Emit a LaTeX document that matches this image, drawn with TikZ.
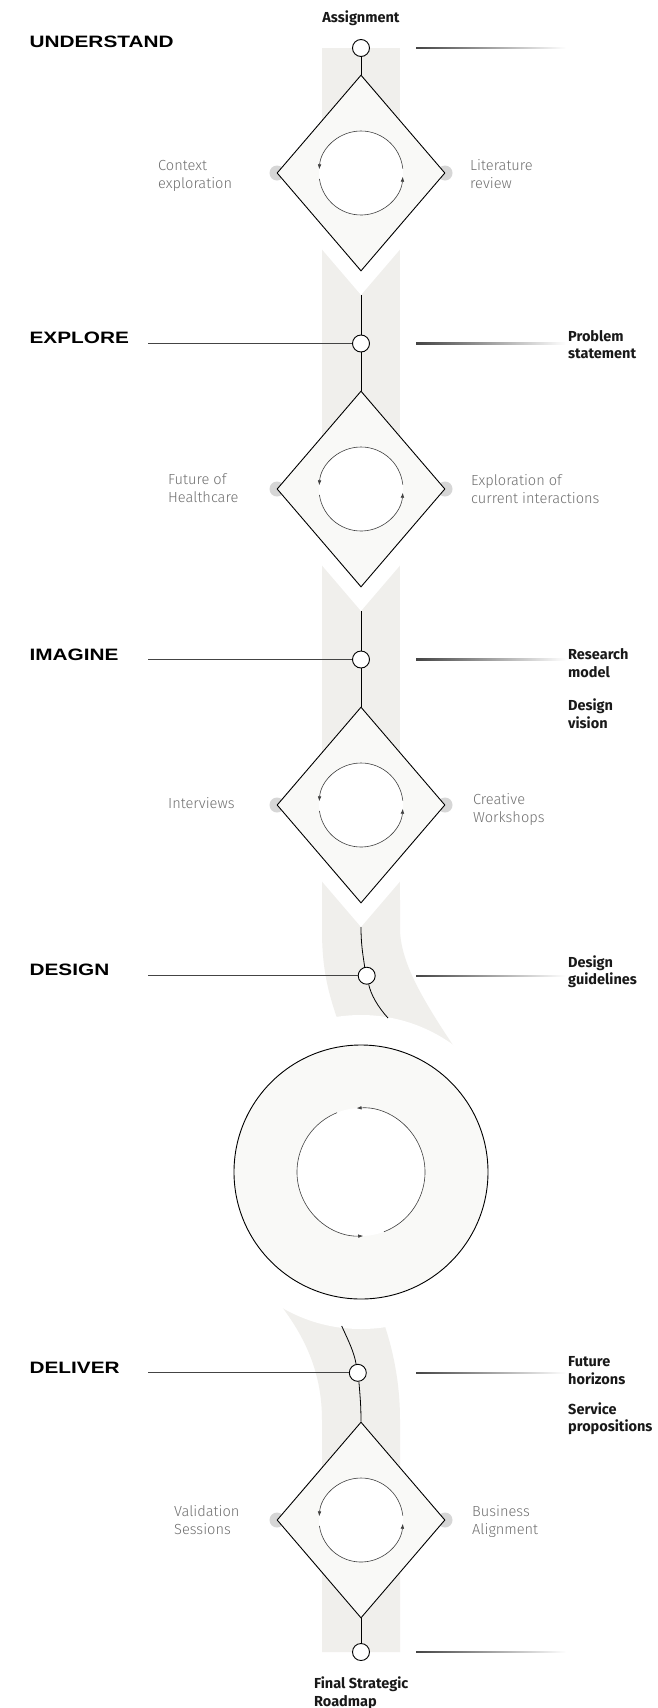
\documentclass[tikz,border=0pt]{standalone}
\usepackage{fontspec}
\setmainfont{Fira Sans}
\newfontfamily\lightfont{Fira Sans Light}
\newfontfamily\phasefont[FakeStretch=1.26]{Liberation Sans}
\usetikzlibrary{shapes.geometric,arrows.meta}
\definecolor{band}{HTML}{F0EFEC}
\definecolor{paper}{HTML}{F9F9F7}
\definecolor{dotc}{HTML}{D6D6D6}
\definecolor{lbl}{HTML}{707070}
\definecolor{ln}{HTML}{444444}
\begin{document}
\begin{tikzpicture}[x=1pt,y=-1pt,
  dia/.style={diamond,draw=black,line width=0.9pt,fill=paper,minimum width=168pt,minimum height=196pt,inner sep=0pt},
  halo/.style={diamond,fill=white,minimum width=168pt,minimum height=196pt,inner sep=0pt},
  stepnode/.style={circle,draw=black,line width=0.9pt,fill=white,minimum size=17pt,inner sep=0pt},
  conn/.style={draw=black,line width=0.8pt},
  hline/.style={draw=ln,line width=1pt},
  loopar/.style={draw=black!75,line width=0.6pt,-{Latex[length=5pt,width=3.5pt]}},
  phase/.style={anchor=west,inner sep=0pt,font=\phasefont\bfseries\fontsize{16.5}{18}\selectfont},
  outl/.style={anchor=west,inner sep=0pt,align=left,font=\bfseries\fontsize{14.5}{17.5}\selectfont,text=black!90},
  side/.style={anchor=west,inner sep=0pt,align=left,font=\lightfont\fontsize{14.6}{18}\selectfont,text=lbl},
  sdot/.style={circle,fill=dotc,minimum size=15pt,inner sep=0pt},
  fade/.style={left color=ln,right color=white}
]
\useasboundingbox[fill=white] (0,0) rectangle (657,1708);

% band
\fill[band] (322,48) rectangle (400,931);
\fill[band] (322,900) -- (322,930) .. controls (322,975) and (330,1000) .. (345,1040)
  -- (470,1070) .. controls (425,1005) and (401,965) .. (400,930) -- (400,900) -- cycle;
\fill[band] (255,1275) .. controls (295,1318) and (322,1360) .. (322,1420) -- (322,1652)
  -- (400,1652) -- (400,1420) .. controls (400,1375) and (390,1335) .. (375,1300) -- cycle;

% white halos
\node[halo] (hU) at (361,197) {};
\node[halo] (hE) at (361,513) {};
\node[halo] (hI) at (361,829) {};
\fill[white] (361,1172) circle[radius=157];

% grey side dots
\foreach \yy in {173,489,805,1520}{
  \node[sdot] at (277,\yy) {};
  \node[sdot] at (445,\yy) {};
}

% diamonds
\node[dia] (dU) at (361,173) {};
\node[dia] (dE) at (361,489) {};
\node[dia] (dI) at (361,805) {};
\node[dia] (dV) at (361,1520) {};
\node[circle,draw=black,line width=0.9pt,fill=paper,minimum size=254pt,inner sep=0pt] (ring) at (361,1172) {};

% inner loops
\foreach \d in {dU,dE,dI,dV}{
  \fill[white] (\d.center) circle[radius=42];
  \draw[loopar] (\d.center) ++(354:42) arc[start angle=354,end angle=185,radius=42];
  \draw[loopar] (\d.center) ++(172:42) arc[start angle=172,end angle=5,radius=42];
}
\fill[white] (ring.center) circle[radius=64];
\draw[loopar] (ring.center) ++(69:64) arc[start angle=69,end angle=-94,radius=64];
\draw[loopar] (ring.center) ++(248:64) arc[start angle=248,end angle=88,radius=64];

% step nodes
\node[stepnode] (nA) at (361,48) {};
\node[stepnode] (nE) at (361,343.5) {};
\node[stepnode] (nI) at (361,659.5) {};
\node[stepnode] (nDs) at (366.7,975.7) {};
\node[stepnode] (nDl) at (357.8,1372.8) {};
\node[stepnode] (nF) at (361,1652) {};

\coordinate (tU) at (361,295);
\coordinate (tE) at (361,611);
\coordinate (tI) at (361,927);
\coordinate (eD) at (388,1018);
\coordinate (sL) at (341.7,1326);

% connectors
\draw[conn] (nA) -- (dU.north);
\draw[conn] (tU) -- (nE);
\draw[conn] (nE) -- (dE.north);
\draw[conn] (tE) -- (nI);
\draw[conn] (nI) -- (dI.north);
\draw[conn] (tI) .. controls (361,945) and (363,955) .. (nDs.103);
\draw[conn] (nDs.-77) .. controls (371,995) and (378,1007) .. (eD);
\draw[conn] (sL) .. controls (349,1342) and (354,1352) .. (nDl.101);
\draw[conn] (nDl.-83) .. controls (360,1395) and (361,1405) .. (dV.north);
\draw[conn] (dV.south) -- (nF);

% left lines
\coordinate (lE) at (148,343.5);
\coordinate (lI) at (148,659.5);
\coordinate (lD) at (148,975.7);
\coordinate (lV) at (148,1372.8);
\draw[hline] (lE) -- (nE);
\draw[hline] (lI) -- (nI);
\draw[hline] (lD) -- (nDs);
\draw[hline] (lV) -- (nDl);

% right fading lines
\foreach \yy in {48,343.5,659.5,975.7,1372.8,1652}{
  \shade[fade] (416,\yy-0.55) rectangle (566,\yy+0.55);
}

% phase titles
\node[phase] (pU) at (29.4,41.5) {UNDERSTAND};
\node[phase] (pE) at (29.4,337.7) {EXPLORE};
\node[phase] (pI) at (29.4,654.8) {IMAGINE};
\node[phase] (pD) at (29.4,969.7) {DESIGN};
\node[phase] (pV) at (29.4,1367.4) {DELIVER};

% outputs
\node[outl,anchor=center] (oA) at (361,18.5) {Assignment};
\node[outl] (oP) at (568,344.6) {Problem\\statement};
\node[outl] (oR) at (568,663) {Research\\model};
\node[outl] (oV) at (568,713.7) {Design\\vision};
\node[outl] (oG) at (568,971.6) {Design\\guidelines};
\node[outl] (oH) at (568,1370.5) {Future\\horizons};
\node[outl] (oS) at (568,1418.6) {Service\\propositions};
\node[outl] (oF) at (314,1693) {Final Strategic\\Roadmap};

% side labels
\node[side] (s1) at (158,175.7) {Context\\exploration};
\node[side] (s2) at (470,174.2) {Literature\\review};
\node[side] (s3) at (168,488.5) {Future of\\Healthcare};
\node[side] (s4) at (471,488.7) {Exploration of\\current interactions};
\node[side] (s5) at (168,803) {Interviews};
\node[side] (s6) at (473,809) {Creative\\Workshops};
\node[side] (s7) at (174,1520.5) {Validation\\Sessions};
\node[side] (s8) at (472,1521.5) {Business\\Alignment};
\end{tikzpicture}
\end{document}
